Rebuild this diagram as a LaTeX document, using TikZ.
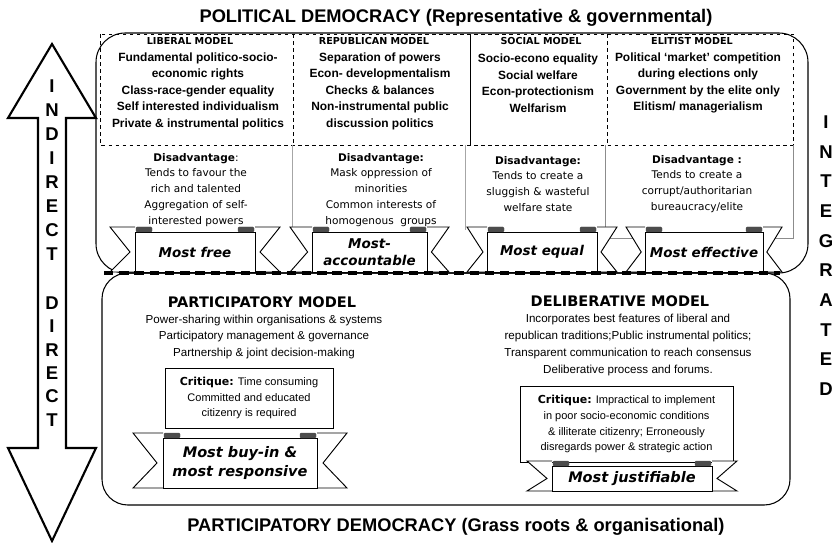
\documentclass[tikz,border=0pt]{standalone}
\usepackage{fontspec}
\setmainfont{Liberation Sans}
\newfontfamily\verd{DejaVu Sans}
\usetikzlibrary{positioning}

\tikzset{
    heading/.style={font=\fontsize{15.6}{18}\selectfont\bfseries, inner sep=0pt},
    bigletter/.style={font=\fontsize{15.8}{16}\selectfont\bfseries, inner sep=0pt},
    modelhead/.style={font=\verd\fontsize{8.2}{10}\selectfont\bfseries, inner sep=0pt},
    modeltext/.style={align=center, font=\fontsize{10.2}{14.1}\selectfont\bfseries, inner sep=0pt},
    disadtext/.style={align=center, font=\verd\fontsize{9}{13.6}\selectfont, inner sep=0pt},
    lowhead/.style={font=\verd\fontsize{12.4}{14}\selectfont\bfseries, inner sep=0pt},
    lowtext/.style={align=center, font=\fontsize{9.9}{14.5}\selectfont, inner sep=0pt},
    critbox/.style={draw, line width=0.8pt, align=center, font=\fontsize{9.4}{13.6}\selectfont, inner sep=0pt},
    ribbontext/.style={align=center, font=\verd\fontsize{11.5}{14}\selectfont\bfseries\itshape, inner sep=0pt},
    bigribbon/.style={font=\verd\fontsize{12.4}{15.5}\selectfont\bfseries\itshape},
}

% banner: [node options], name, centre x, top, bottom, half width, tail length, text
\newcommand{\ribbon}[8][]{%
    \draw[fill=white, line width=0.8pt] (#3-#6,#4-5) -- (#3-#6-#7,#4-5) -- (#3-#6-0.2*#7,{(#4+#5)/2}) -- (#3-#6-#7,#5) -- (#3-#6,#5);
    \draw[fill=white, line width=0.8pt] (#3+#6,#4-5) -- (#3+#6+#7,#4-5) -- (#3+#6+0.2*#7,{(#4+#5)/2}) -- (#3+#6+#7,#5) -- (#3+#6,#5);
    \draw[fill=white, line width=0.8pt] (#3-#6,#4) rectangle (#3+#6,#5);
    \filldraw[black!70, rounded corners=1pt] (#3-#6+1,#4-5) rectangle (#3-#6+17,#4);
    \filldraw[black!70, rounded corners=1pt] (#3+#6-17,#4-5) rectangle (#3+#6-1,#4);
    \node[ribbontext, #1] (#2) at (#3,{(#4+#5)/2}) {#8};
}

\begin{document}
\begin{tikzpicture}[x=0.03cm, y=-0.03cm]
    \useasboundingbox (0,0) rectangle (839,543);

    % titles
    \node[heading] (poltitle) at (456,18) {POLITICAL DEMOCRACY (Representative \& governmental)};
    \node[heading] (partitle) at (456,527) {PARTICIPATORY DEMOCRACY (Grass roots \& organisational)};

    % indirect / direct arrow
    \draw[line width=1.8pt, fill=white] (52,44) -- (96,118) -- (66,118) -- (66,448) -- (96,448) -- (52,541) -- (8,448) -- (38,448) -- (38,118) -- (8,118) -- cycle;
    \foreach \l [count=\i from 0] in {I,N,D,I,R,E,C,T}
        \node[bigletter] (ind\i) at (52,86+24*\i) {\l};
    \foreach \l [count=\i from 0] in {D,I,R,E,C,T}
        \node[bigletter] (dir\i) at (52,303+23.4*\i) {\l};
    \foreach \l [count=\i from 0] in {I,N,T,E,G,R,A,T,E,D}
        \node[bigletter] (int\i) at (826,122+29.7*\i) {\l};

    % the two boxes
    \draw[line width=0.9pt, rounded corners=25] (96,33) rectangle (808,273);
    \draw[line width=0.9pt, rounded corners=22] (102,273) rectangle (790,505);

    % model grid
    \draw[dashed, line width=0.8pt] (100,34) rectangle (793,145);
    \draw[dashed, line width=0.8pt] (293,34) -- (293,145);
    \draw[line width=0.8pt] (470,34) -- (470,145);
    \draw[dashed, line width=0.8pt] (607,34) -- (607,145);
    \draw[black!35, line width=0.4pt] (292,145) -- (292,230);
    \draw[black!35, line width=0.4pt] (465,145) -- (465,230);
    \draw[black!45, line width=0.5pt] (605,145) -- (605,238) -- (793,238) -- (793,145);

    \node[modelhead] (libhead) at (190,41) {LIBERAL MODEL};
    \node[modeltext] (libtext) at (198,91) {Fundamental politico-socio-\\economic rights\\Class-race-gender equality\\Self interested individualism\\Private \& instrumental politics};
    \node[modelhead] (rephead) at (374,41) {REPUBLICAN MODEL};
    \node[modeltext] (reptext) at (380,91) {Separation of powers\\Econ- developmentalism\\Checks \& balances\\Non-instrumental public\\discussion politics};
    \node[modelhead] (sochead) at (541,41) {SOCIAL MODEL};
    \node[modeltext] (soctext) at (538,83) {Socio-econo equality\\Social welfare\\Econ-protectionism\\Welfarism};
    \node[modelhead] (elihead) at (692,41) {ELITIST MODEL};
    \node[modeltext] (elitext) at (698,83) {Political `market' competition\\during elections only\\Government by the elite only\\Elitism/ managerialism};

    % disadvantages
    \node[disadtext] (libdis) at (196,190) {\textbf{Disadvantage}:\\Tends to favour the\\rich and talented\\Aggregation of self-\\interested powers};
    \node[disadtext] (repdis) at (381,190) {\textbf{Disadvantage:}\\Mask oppression of\\minorities\\Common interests of\\homogenous\ \ groups};
    \node[disadtext] (socdis) at (538,184) {\textbf{Disadvantage:}\\Tends to create a\\sluggish \& wasteful\\welfare state};
    \node[disadtext] (elidis) at (697,184) {\textbf{Disadvantage :}\\Tends to create a\\corrupt/authoritarian\\bureaucracy/elite};

    % banners of the upper box
    \ribbon{free}{195}{232}{272}{60}{25}{Most free}
    \ribbon{accountable}{369.5}{232}{272}{57.5}{22}{Most-\\accountable}
    \ribbon{equal}{542}{232}{272}{55}{20}{Most equal}
    \ribbon{effective}{704}{232}{272}{59}{19}{Most effective}
    \draw[line width=2.6pt, dash pattern=on 8pt off 5pt] (104,273) -- (780,273);

    % participatory model
    \node[lowhead] (parhead) at (262,302) {PARTICIPATORY MODEL};
    \node[lowtext] (partext) at (264,337) {Power-sharing within organisations \& systems\\Participatory management \& governance\\Partnership \& joint decision-making};
    \node[critbox, minimum width=5.04cm, minimum height=1.8cm] (parcrit) at (249,398) {{\verd\bfseries Critique:} Time consuming\\Committed and educated\\citizenry is required};
    \ribbon[bigribbon]{buyin}{240}{438}{488}{77}{30}{Most buy-in \&\\most responsive}

    % deliberative model
    \node[lowhead] (delhead) at (620,301) {DELIBERATIVE MODEL};
    \node[lowtext] (deltext) at (628,345) {Incorporates best features of liberal and\\republican traditions;Public instrumental politics;\\Transparent communication to reach consensus\\Deliberative process and forums.};
    \node[critbox, minimum width=6.39cm, minimum height=2.28cm] (delcrit) at (626.5,424) {{\verd\bfseries Critique:} Impractical to implement\\in poor socio-economic conditions\\\& illiterate citizenry; Erroneously\\disregards power \& strategic action};
    \ribbon[bigribbon]{justifiable}{632}{466}{491}{80}{25}{Most justifiable}
\end{tikzpicture}
\end{document}
